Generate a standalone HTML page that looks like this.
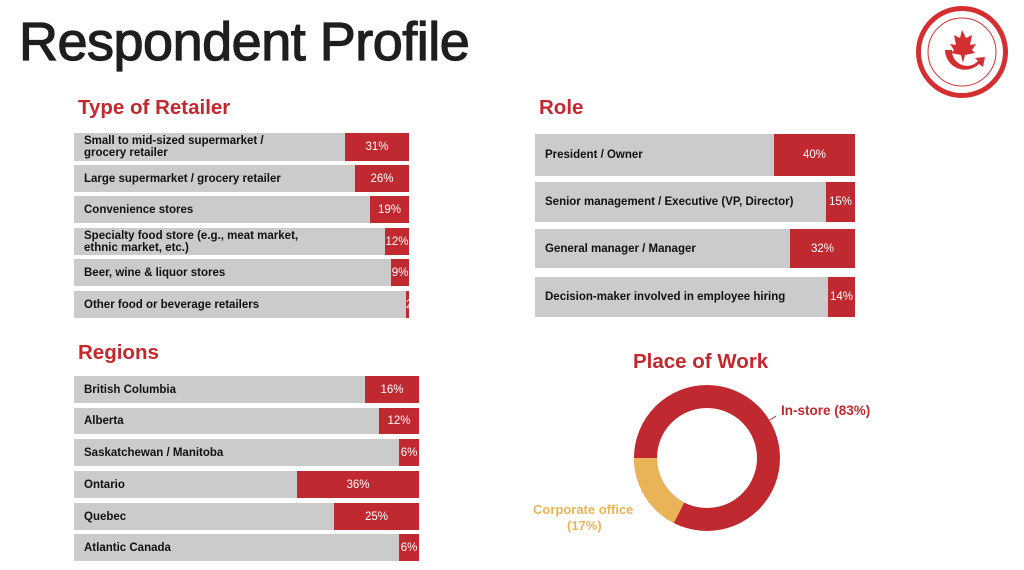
<!DOCTYPE html>
<html><head><meta charset="utf-8"><style>
body{margin:0;width:1024px;height:570px;background:#fff;position:relative;overflow:hidden;font-family:"Liberation Sans",sans-serif}
.a{position:absolute}
.h1{left:19px;top:11px;font-size:54px;line-height:62px;color:#1e1e1e;-webkit-text-stroke:1.2px #1e1e1e;letter-spacing:-0.5px}
.h2{font-size:20.5px;font-weight:bold;color:#c3282e}
.bar{position:absolute;background:#cbcbcb}
.bar .r{position:absolute;top:0;bottom:0;right:0;background:#c0292f;color:#fff;font-size:11.5px;display:flex;align-items:center;justify-content:center}
.bar .t{position:absolute;left:10px;top:0;bottom:0;display:flex;align-items:center;font-size:11.5px;font-weight:bold;color:#111;line-height:12px}
</style></head><body>
<div class="a h1">Respondent Profile</div>
<div class="a h2" style="left:78px;top:96px">Type of Retailer</div>
<div class="a h2" style="left:539px;top:96px">Role</div>
<div class="a h2" style="left:78px;top:341px">Regions</div>
<div class="a h2" style="left:633px;top:350px">Place of Work</div>

<div class="bar" style="left:74px;top:133px;width:335px;height:28px"><div class="t">Small to mid-sized supermarket /<br>grocery retailer</div><div class="r" style="width:64px">31%</div></div>
<div class="bar" style="left:74px;top:165px;width:335px;height:27px"><div class="t">Large supermarket / grocery retailer</div><div class="r" style="width:54px">26%</div></div>
<div class="bar" style="left:74px;top:196px;width:335px;height:27px"><div class="t">Convenience stores</div><div class="r" style="width:39px">19%</div></div>
<div class="bar" style="left:74px;top:228px;width:335px;height:27px"><div class="t">Specialty food store (e.g., meat market,<br>ethnic market, etc.)</div><div class="r" style="width:24px">12%</div></div>
<div class="bar" style="left:74px;top:259px;width:335px;height:27px"><div class="t">Beer, wine &amp; liquor stores</div><div class="r" style="width:18px">9%</div></div>
<div class="bar" style="left:74px;top:291px;width:335px;height:27px"><div class="t">Other food or beverage retailers</div><div class="r" style="width:3px;justify-content:flex-start">2%</div></div>

<div class="bar" style="left:535px;top:134px;width:320px;height:42px"><div class="t">President / Owner</div><div class="r" style="width:81px">40%</div></div>
<div class="bar" style="left:535px;top:182px;width:320px;height:40px"><div class="t">Senior management / Executive (VP, Director)</div><div class="r" style="width:29px">15%</div></div>
<div class="bar" style="left:535px;top:229px;width:320px;height:39px"><div class="t">General manager / Manager</div><div class="r" style="width:65px">32%</div></div>
<div class="bar" style="left:535px;top:277px;width:320px;height:40px"><div class="t">Decision-maker involved in employee hiring</div><div class="r" style="width:27px">14%</div></div>

<div class="bar" style="left:74px;top:376px;width:345px;height:27px"><div class="t">British Columbia</div><div class="r" style="width:54px">16%</div></div>
<div class="bar" style="left:74px;top:408px;width:345px;height:26px"><div class="t">Alberta</div><div class="r" style="width:40px">12%</div></div>
<div class="bar" style="left:74px;top:439px;width:345px;height:27px"><div class="t">Saskatchewan / Manitoba</div><div class="r" style="width:20px">6%</div></div>
<div class="bar" style="left:74px;top:471px;width:345px;height:27px"><div class="t">Ontario</div><div class="r" style="width:122px">36%</div></div>
<div class="bar" style="left:74px;top:503px;width:345px;height:27px"><div class="t">Quebec</div><div class="r" style="width:85px">25%</div></div>
<div class="bar" style="left:74px;top:534px;width:345px;height:27px"><div class="t">Atlantic Canada</div><div class="r" style="width:20px">6%</div></div>

<svg class="a" style="left:0;top:0" width="1024" height="570">
<circle cx="707" cy="458" r="61.5" fill="none" stroke="#c0292f" stroke-width="23"/>
<path d="M679.1,512.8 A61.5,61.5 0 0 1 645.5,458" fill="none" stroke="#e9b458" stroke-width="23"/>
<line x1="770" y1="420" x2="776" y2="416" stroke="#c0292f"/>
<text x="781" y="415" font-family="Liberation Sans" font-weight="bold" font-size="13.5" fill="#c0292f">In-store (83%)</text>
<text x="533" y="514" font-family="Liberation Sans" font-weight="bold" font-size="13" fill="#e9b458">Corporate office</text>
<text x="567" y="530" font-family="Liberation Sans" font-weight="bold" font-size="13" fill="#e9b458">(17%)</text>
<circle cx="962" cy="52" r="46" fill="#d42e30"/>
<circle cx="962" cy="52" r="41" fill="#fff"/>
<circle cx="962" cy="52" r="34" fill="none" stroke="#d42e30" stroke-width="1"/>
<path d="M962,30 l4,8 6,-3 -2,10 6,-1 -4,6 3,3 -10,2 -2,8 -2,-8 -10,-2 3,-3 -4,-6 6,1 -2,-10 6,3z" fill="#d42e30"/>
<path d="M945,50 a20,20 0 0 0 34,14 l4,3 2,-10 -10,1 3,3 a15,15 0 0 1 -26,-11z" fill="#d42e30"/>
</svg>
</body></html>
